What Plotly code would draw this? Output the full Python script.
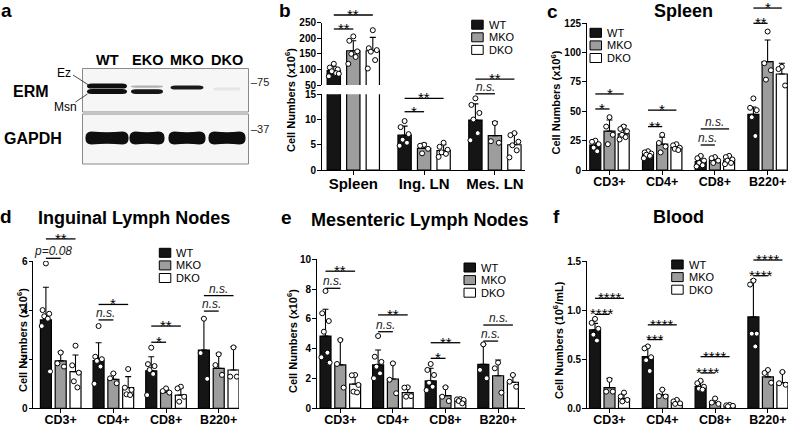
import plotly.graph_objects as go

W, H = 792, 427
FONT = "Liberation Sans, Arial, Helvetica, sans-serif"

groups = ["WT", "MKO", "DKO"]
group_colors = ["#151515", "#9d9d9d", "#ffffff"]

# ---------------- panel a : western blot ----------------
blot_lanes = ["WT", "EKO", "MKO", "DKO"]
ez_intensity = [1.0, 0.30, 0.95, 0.08]
msn_intensity = [1.0, 0.97, 0.0, 0.06]
gapdh_intensity = [1.0, 1.0, 1.0, 1.0]
ez_row = [18.0, 18.6, 19.6, 20.5]
msn_row = [23.4, 23.6, 23.6, 22.0]
ez_thickness = [5.2, 2.2, 4.0, 2.0]
msn_thickness = [5.0, 4.6, 0.0, 1.5]
erm_width = [1.0, 0.8, 0.82, 0.68]
gapdh_width = [1.08, 0.88, 0.93, 0.93]
mw_markers = ["75", "37"]

# ---------------- panel b : total cell numbers ----------------
b_categories = ["Spleen", "Ing. LN", "Mes. LN"]
b_wt_mean = [96, 6.9, 9.9]
b_mko_mean = [160, 4.3, 6.8]
b_dko_mean = [160, 3.85, 5.0]
b_wt_sd = [14, 1.8, 3.2]
b_mko_sd = [32, 1.0, 2.8]
b_dko_sd = [43, 1.15, 2.3]
b_wt_pts = [[118, 106, 100, 94, 88, 78, 86], [9.7, 8.5, 7.1, 6.0, 5.4, 4.8], [14.2, 12.9, 11.3, 10.0, 7.3, 5.9]]
b_mko_pts = [[206, 192, 158, 150, 140, 118], [5.0, 4.8, 4.2, 3.3], [9.3, 5.7, 5.4]]
b_dko_pts = [[226, 168, 162, 157, 130, 103], [5.4, 4.6, 4.0, 3.5, 3.2, 2.6], [7.3, 6.9, 5.6, 4.9, 3.9, 2.5]]
b_sig_top = [(0, 2, 274.7, "**"), (0, 1, 229.8, "**")]
b_sig_bottom = [(1, 2, 14.2, "**"), (1, 1, 11.55, "*"), (2, 2, 18.0, "**"), (2, 1, 15.1, "n.s.")]

# ---------------- subsets (panels c-f) ----------------
subsets = ["CD3+", "CD4+", "CD8+", "B220+"]

c_wt_mean = [21.3, 13.4, 7.1, 47.4]
c_mko_mean = [33.2, 22, 8.5, 92.3]
c_dko_mean = [30.7, 19, 8.5, 81.8]
c_wt_sd = [2.7, 2.6, 4.9, 6.3]
c_mko_sd = [9.4, 6.0, 2.9, 18.5]
c_dko_sd = [7.3, 1.7, 3.5, 9.2]
c_wt_pts = [[25, 24, 22, 19, 16], [16, 15, 14, 13, 12, 10], [12, 10, 8, 6, 4, 3], [61, 53, 51, 45, 29]]
c_mko_pts = [[45, 37, 30, 22], [30, 23, 20, 15], [11, 10, 8, 6], [118, 91, 85, 77]]
c_dko_pts = [[37, 35, 33, 30, 28, 26], [22, 21, 19, 18, 17], [12, 11, 9, 8, 6, 5], [88, 86, 72]]
c_sig = [(0, 2, 64.8, "*"), (0, 1, 52, "*"), (1, 2, 51, "*"), (1, 1, 37, "**"),
         (2, 2, 35, "n.s."), (2, 1, 21.3, "n.s."), (3, 2, 138, "*"), (3, 1, 125, "**")]

d_wt_mean = [3.6, 1.94, 1.53, 2.37]
d_mko_mean = [1.93, 1.18, 0.65, 1.63]
d_dko_mean = [1.49, 0.84, 0.54, 1.56]
d_wt_sd = [1.33, 0.73, 0.57, 1.29]
d_mko_sd = [0.37, 0.24, 0.12, 0.61]
d_dko_sd = [0.68, 0.45, 0.30, 0.94]
d_wt_pts = [[5.9, 4.0, 3.85, 3.75, 3.65, 3.35, 1.5], [3.35, 2.1, 2.0, 1.93, 1.7, 1.0],
            [2.47, 1.8, 1.72, 1.56, 1.4, 0.54], [3.65, 2.25, 1.2]]
d_mko_pts = [[2.27, 1.83, 1.7], [1.42, 1.22, 1.02], [0.81, 0.7, 0.64], [2.2, 1.76, 1.36]]
d_dko_pts = [[2.55, 1.75, 1.45, 1.1, 0.85], [1.6, 0.84, 0.75, 0.57, 0.54], [0.88, 0.81, 0.47, 0.27], [2.48, 1.29, 1.29]]
d_sig = [(0, 2, 6.9, "**"), (0, 1, 6.11, "p=0.08"), (1, 2, 4.23, "*"), (1, 1, 3.6, "n.s."),
         (2, 2, 3.35, "**"), (2, 1, 2.69, "*"), (3, 2, 4.59, "n.s."), (3, 1, 3.96, "n.s.")]

e_wt_mean = [4.84, 2.9, 1.82, 2.94]
e_mko_mean = [2.9, 1.95, 0.83, 2.17]
e_dko_mean = [1.61, 1.03, 0.47, 1.73]
e_wt_sd = [1.8, 1.0, 0.85, 1.34]
e_mko_sd = [1.72, 1.1, 0.6, 1.06]
e_dko_sd = [0.61, 0.4, 0.18, 0.49]
e_wt_pts = [[7.87, 6.37, 5.85, 5.13, 3.72, 3.41, 3.05], [4.84, 3.45, 3.1, 2.78, 2.33, 2.0],
            [2.96, 2.56, 2.22, 1.7, 1.43, 1.2], [4.28, 2.56, 2.0]]
e_mko_pts = [[4.57, 2.96, 1.37], [3.0, 1.9, 0.99], [1.39, 0.76, 0.47], [3.05, 2.67, 1.03]]
e_dko_pts = [[2.22, 2.2, 1.55, 1.1, 1.05], [1.39, 1.37, 0.8, 0.76], [0.6, 0.58, 0.54, 0.47, 0.31], [2.22, 1.77, 1.43]]
e_sig = [(0, 2, 9.2, "**"), (0, 1, 8.05, "n.s."), (1, 2, 6.26, "**"), (1, 1, 5.13, "n.s."),
         (2, 2, 4.39, "**"), (2, 1, 3.34, "*"), (3, 2, 5.58, "n.s."), (3, 1, 4.5, "n.s.")]

f_wt_mean = [0.80, 0.526, 0.22, 0.93]
f_mko_mean = [0.21, 0.136, 0.058, 0.32]
f_dko_mean = [0.10, 0.058, 0.027, 0.26]
f_wt_sd = [0.065, 0.114, 0.05, 0.38]
f_mko_sd = [0.095, 0.054, 0.042, 0.07]
f_dko_sd = [0.05, 0.032, 0.013, 0.11]
f_wt_pts = [[0.91, 0.87, 0.81, 0.75, 0.69], [0.63, 0.61, 0.52, 0.49, 0.38],
            [0.28, 0.255, 0.22, 0.2, 0.19], [1.3, 1.26, 0.76, 0.76, 0.63]]
f_mko_pts = [[0.29, 0.17, 0.17], [0.19, 0.125, 0.12], [0.1, 0.058, 0.045], [0.39, 0.36, 0.26]]
f_dko_pts = [[0.16, 0.12, 0.085, 0.07], [0.085, 0.07, 0.05, 0.045], [0.035, 0.03, 0.025, 0.02], [0.37, 0.255, 0.24]]
f_sig = [(0, 2, 1.12, "****"), (0, 1, 0.957, "****"), (1, 2, 0.85, "****"), (1, 1, 0.70, "***"),
         (2, 2, 0.526, "****"), (2, 1, 0.36, "****"), (3, 2, 1.51, "****"), (3, 1, 1.35, "****")]

jitter = [0.0, -0.6, 0.6, -0.3, 0.35, -0.75, 0.75]

# ---------------- helpers ----------------
fig = go.Figure()
layout_axes = {}
shapes = []
annotations = []


def axname(aid):
    return aid[0] + "axis" + aid[1:]


class Panel:
    def __init__(self, xid, yid, x0, x1, cat0, step, off, bw, ytop, ybot, yrange):
        self.xid, self.yid = xid, yid
        self.x0, self.x1, self.cat0, self.step, self.off, self.bw = x0, x1, cat0, step, off, bw
        self.ytop, self.ybot, self.yrange = ytop, ybot, yrange

    def gx(self, i, g):
        return i + (g - 1) * self.off / self.step

    def xpx(self, xd):
        return self.cat0 + xd * self.step

    def ypx(self, v):
        r0, r1 = self.yrange
        return self.ybot - (v - r0) / (r1 - r0) * (self.ybot - self.ytop)


def ann(text, x, y, size, bold=False, italic=False, xanchor="center", yanchor="middle",
        angle=0, color="black", yshift=0, xref="paper", height=None):
    a = dict(
        text=text, x=(x / W) if xref == "paper" else x, y=1 - y / H, xref=xref, yref="paper",
        showarrow=False, xanchor=xanchor, yanchor=yanchor, textangle=angle, yshift=yshift,
        borderpad=0,
        font=dict(family=FONT, size=size, color=color, weight="bold" if bold else "normal",
                  style="italic" if italic else "normal"))
    if height is not None:
        a["height"] = height
        a["valign"] = "middle"
    annotations.append(a)


def add_axes(p, categories, xfont, tickvals, tickformat=None, xvisible=True, matches=None):
    xa = dict(domain=[p.x0 / W, p.x1 / W],
              range=[(p.x0 - p.cat0) / p.step, (p.x1 - p.cat0) / p.step],
              anchor=p.yid, showline=True, linecolor="black", linewidth=1.3,
              ticks="outside", ticklen=4, tickwidth=1.3, tickcolor="black",
              tickvals=list(range(len(categories))), ticktext=categories,
              ticklabelstandoff=-4,
              tickfont=dict(family=FONT, size=xfont, color="black", weight="bold"),
              showgrid=False, zeroline=False, fixedrange=True, visible=xvisible)
    if matches:
        xa["matches"] = matches
    layout_axes[axname(p.xid)] = xa
    ya = dict(domain=[1 - p.ybot / H, 1 - p.ytop / H], range=p.yrange, anchor=p.xid,
              showline=True, linecolor="black", linewidth=1.3, ticks="outside",
              ticklen=3.5, tickwidth=1.3, tickcolor="black", tickvals=tickvals,
              ticklabelstandoff=-1,
              tickfont=dict(family=FONT, size=10, color="black", weight="bold"),
              showgrid=False, zeroline=False, fixedrange=True)
    if tickformat:
        ya["tickformat"] = tickformat
    layout_axes[axname(p.yid)] = ya


def add_bars(p, means, sds, pts):
    n = len(means[0])
    for g in range(3):
        xs = [p.gx(i, g) for i in range(n)]
        fig.add_trace(go.Bar(
            x=xs, y=means[g], width=[p.bw / p.step] * n, name=groups[g],
            marker=dict(color=group_colors[g], line=dict(color="black", width=1.2)),
            error_y=dict(type="data", symmetric=False, array=sds[g], arrayminus=[0] * n,
                         color="black", thickness=1.1, width=3),
            xaxis=p.xid, yaxis=p.yid, showlegend=False, hoverinfo="skip"))
    for g in range(3):
        px_, py_ = [], []
        for i in range(n):
            for k, v in enumerate(pts[g][i]):
                px_.append(p.gx(i, g) + jitter[k % len(jitter)] * (p.bw / 2) / p.step)
                py_.append(v)
        fig.add_trace(go.Scatter(
            x=px_, y=py_, mode="markers", name=groups[g],
            marker=dict(symbol="circle", size=5, color="white", line=dict(color="black", width=1)),
            xaxis=p.xid, yaxis=p.yid, showlegend=False, hoverinfo="skip"))


def add_sig(p, sigs):
    for (i, g, yv, label) in sigs:
        xa = p.xpx(p.gx(i, 0))
        xb = p.xpx(p.gx(i, g))
        y = p.ypx(yv)
        shapes.append(dict(type="line", xref="paper", yref="paper", x0=xa / W, x1=xb / W,
                           y0=1 - y / H, y1=1 - y / H, line=dict(color="black", width=1.3)))
        xm = (xa + xb) / 2
        if label.startswith("*"):
            ann(label, xm, y, 15, yanchor="middle", yshift=1, height=8)
        else:
            ann(label, xm, y, 12, italic=True, yanchor="bottom", yshift=-1, color="#222")


def add_legend(lx, ly, step=12.6):
    for g in range(3):
        yc = ly + g * step
        shapes.append(dict(type="rect", xref="paper", yref="paper", x0=lx / W, x1=(lx + 11.5) / W,
                           y0=1 - (yc + 4.5) / H, y1=1 - (yc - 4.5) / H,
                           fillcolor=group_colors[g], line=dict(color="black", width=1)))
        ann(groups[g], lx + 16, yc, 11, xanchor="left")


YTITLE = "Cell Numbers (x10<sup>6</sup>)"

# ---------------- panel a ----------------
blot_x0, blot_x1, blot_c0, blot_step = 82, 249, 107, 40
layout_axes["xaxis7"] = dict(domain=[blot_x0 / W, blot_x1 / W],
                             range=[(blot_x0 - blot_c0) / blot_step, (blot_x1 - blot_c0) / blot_step],
                             visible=False, anchor="y7", fixedrange=True)
layout_axes["yaxis7"] = dict(domain=[1 - 164 / H, 1 - 68 / H], range=[96, 0], visible=False,
                             anchor="x7", fixedrange=True)
fig.add_trace(go.Scatter(x=list(range(len(blot_lanes))), y=[70] * len(blot_lanes), mode="markers",
                         marker=dict(size=1, opacity=0), xaxis="x7", yaxis="y7",
                         showlegend=False, hoverinfo="skip"))
for li, lane in enumerate(blot_lanes):
    ann(lane, li, 59.5, 14.5, bold=True, xref="x7")
for (t0, t1) in [(68.5, 112), (114, 164)]:
    shapes.append(dict(type="rect", xref="paper", yref="paper", x0=82.5 / W, x1=248.5 / W,
                       y0=1 - t1 / H, y1=1 - t0 / H, fillcolor="#f6f6f6",
                       line=dict(color="#8a8a8a", width=1)))


def band_color(I):
    v = int(round(246 - I * (246 - 14)))
    return f"rgb({v},{v},{v})"


def band_path(cx, cy, w, t, pinch=0.0, r=0.12):
    x0, x1 = cx - w / 2, cx + w / 2
    y0, y1 = cy - t / 2, cy + t / 2
    return (f"M{x0},{cy} Q{x0},{y0} {x0 + r},{y0} Q{cx},{y0 + t * pinch} {x1 - r},{y0} "
            f"Q{x1},{y0} {x1},{cy} Q{x1},{y1} {x1 - r},{y1} Q{cx},{y1 - t * pinch} {x0 + r},{y1} "
            f"Q{x0},{y1} {x0},{cy} Z")


for li in range(len(blot_lanes)):
    for (row, th, inten, wd) in [(ez_row, ez_thickness, ez_intensity, erm_width),
                                 (msn_row, msn_thickness, msn_intensity, erm_width)]:
        if th[li] > 0 and inten[li] > 0:
            shapes.append(dict(type="path", xref="x7", yref="y7",
                               path=band_path(li, row[li], wd[li], th[li]),
                               fillcolor=band_color(inten[li]), line=dict(width=0)))
    shapes.append(dict(type="path", xref="x7", yref="y7",
                       path=band_path(li, 70, gapdh_width[li], 13, pinch=0.12, r=0.15),
                       fillcolor=band_color(gapdh_intensity[li]), line=dict(width=0)))

ann("ERM", 31, 91, 16, bold=True)
ann("GAPDH", 33, 139, 16, bold=True)
ann("Ez", 64, 73.5, 12)
ann("Msn", 65, 107.5, 12)
shapes.append(dict(type="line", xref="paper", yref="paper", x0=73 / W, y0=1 - 75 / H,
                   x1=88.5 / W, y1=1 - 85 / H, line=dict(color="#333", width=0.9)))
shapes.append(dict(type="line", xref="paper", yref="paper", x0=75.5 / W, y0=1 - 102 / H,
                   x1=87.5 / W, y1=1 - 94 / H, line=dict(color="#333", width=0.9)))
ann("\u2013" + mw_markers[0], 250, 82, 11, xanchor="left", color="#222")
ann("\u2013" + mw_markers[1], 250, 129, 11, xanchor="left", color="#222")

# ---------------- panel b ----------------
pb_bot = Panel("x", "y", 321.7, 525, 353.3, 70.8, 19.5, 13.3, 94.3, 170, [0, 15])
pb_top = Panel("x2", "y2", 321.7, 525, 353.3, 70.8, 19.5, 13.3, 22.7, 85, [50, 250])
add_axes(pb_bot, b_categories, 15, [0, 5, 10, 15])
add_axes(pb_top, b_categories, 15, [50, 100, 150, 200, 250], xvisible=False, matches="x")
b_means = [b_wt_mean, b_mko_mean, b_dko_mean]
b_sds = [b_wt_sd, b_mko_sd, b_dko_sd]
b_pts = [b_wt_pts, b_mko_pts, b_dko_pts]
add_bars(pb_bot, b_means, b_sds, b_pts)
add_bars(pb_top, b_means, b_sds, b_pts)
add_sig(pb_top, b_sig_top)
add_sig(pb_bot, b_sig_bottom)
add_legend(471.7, 24.7)
ann(YTITLE, 290, 100, 11, bold=True, angle=-90)

# ---------------- panel c ----------------
pc = Panel("x3", "y3", 586.7, 788, 609.5, 52.7, 14.2, 11, 23.3, 170, [0, 125])
add_axes(pc, subsets, 12.5, [0, 25, 50, 75, 100, 125])
add_bars(pc, [c_wt_mean, c_mko_mean, c_dko_mean], [c_wt_sd, c_mko_sd, c_dko_sd],
         [c_wt_pts, c_mko_pts, c_dko_pts])
add_sig(pc, c_sig)
add_legend(590, 32.8)
ann(YTITLE, 555.5, 103, 11, bold=True, angle=-90)
ann("Spleen", 683, 11, 18, bold=True)

# ---------------- panel d ----------------
pd_ = Panel("x4", "y4", 33.3, 239, 60.7, 52.67, 14.8, 11, 261, 408.3, [0, 6])
add_axes(pd_, subsets, 12.5, [0, 2, 4, 6])
add_bars(pd_, [d_wt_mean, d_mko_mean, d_dko_mean], [d_wt_sd, d_mko_sd, d_dko_sd],
         [d_wt_pts, d_mko_pts, d_dko_pts])
add_sig(pd_, d_sig)
add_legend(159.3, 252.8)
ann(YTITLE, 22, 340, 11, bold=True, angle=-90)
ann("Inguinal Lymph Nodes", 133.5, 218, 18, bold=True)

# ---------------- panel e ----------------
pe = Panel("x5", "y5", 316.7, 525, 340.3, 52.6, 14.8, 11, 259.3, 408, [0, 10])
add_axes(pe, subsets, 12.5, [0, 2, 4, 6, 8, 10])
add_bars(pe, [e_wt_mean, e_mko_mean, e_dko_mean], [e_wt_sd, e_mko_sd, e_dko_sd],
         [e_wt_pts, e_mko_pts, e_dko_pts])
add_sig(pe, e_sig)
add_legend(464, 267.5)
ann(YTITLE, 292, 341, 11, bold=True, angle=-90)
ann("Mesenteric Lymph Nodes", 419, 220, 18, bold=True)

# ---------------- panel f ----------------
pf = Panel("x6", "y6", 586.7, 788, 609.5, 52.8, 14.5, 11, 261, 408.3, [0, 1.5])
add_axes(pf, subsets, 12.5, [0, 0.5, 1.0, 1.5], tickformat=".1f")
add_bars(pf, [f_wt_mean, f_mko_mean, f_dko_mean], [f_wt_sd, f_mko_sd, f_dko_sd],
         [f_wt_pts, f_mko_pts, f_dko_pts])
add_sig(pf, f_sig)
add_legend(671.7, 264.5)
ann("Cell Numbers (10<sup>6</sup>/mL)", 558, 340, 11, bold=True, angle=-90)
ann("Blood", 678.5, 217, 18, bold=True)

# ---------------- panel letters ----------------
for (letter, lx, ly) in [("a", 6, 10), ("b", 285, 10), ("c", 552, 11),
                         ("d", 6, 216), ("e", 286, 217), ("f", 556, 216)]:
    ann(letter, lx, ly, 19, bold=True)

fig.update_layout(
    width=W, height=H, margin=dict(l=0, r=0, t=0, b=0, autoexpand=False),
    paper_bgcolor="white", plot_bgcolor="rgba(0,0,0,0)", barmode="overlay",
    font=dict(family=FONT, color="black"), showlegend=False,
    shapes=shapes, annotations=annotations, **layout_axes)

fig.write_html("out.html", config={"displayModeBar": False},
               post_script="document.body.style.margin='0px';document.body.style.overflow='hidden';")
